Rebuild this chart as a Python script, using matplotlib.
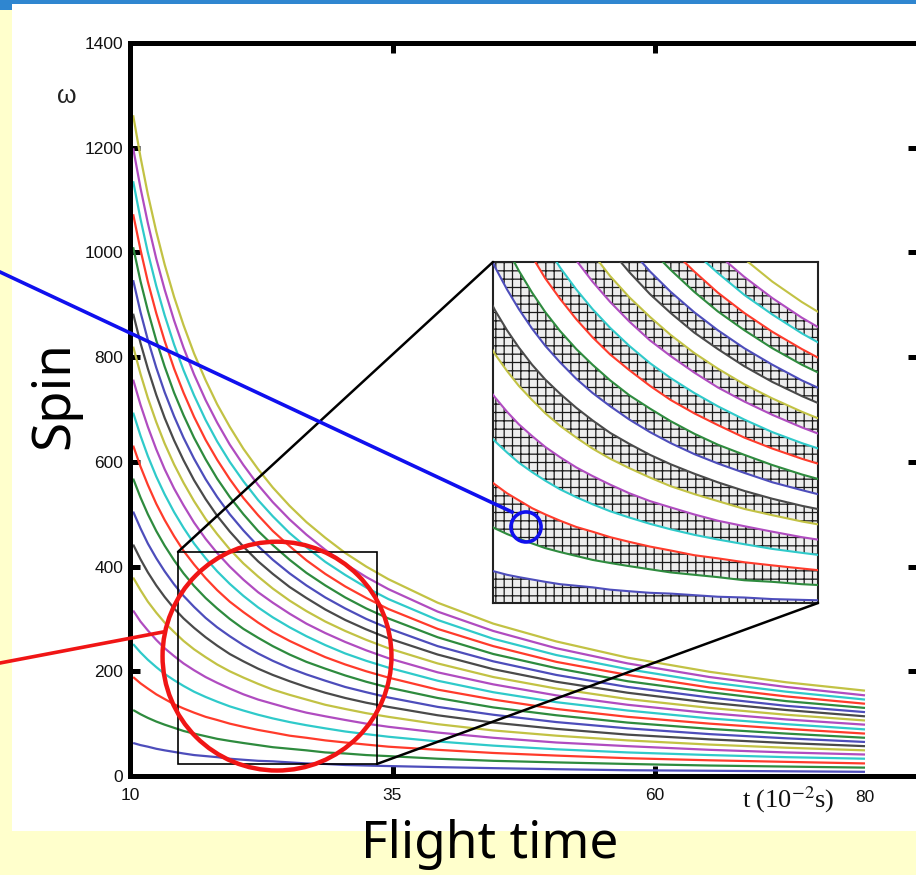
import matplotlib
matplotlib.use('Agg')
import matplotlib.pyplot as plt
from matplotlib.patches import Rectangle, Ellipse, ConnectionPatch
from matplotlib.lines import Line2D

# ---------------- data ----------------
t = [10.3, 11, 11.7, 12.5, 13.3, 14.2, 15.1, 16.1, 17.2, 18.3, 19.5, 20.8, 22.2, 23.6,
     25.2, 26.8, 28.6, 30.5, 32.5, 34.6, 39.3, 44.6, 50.6, 57.4, 65.2, 72.5, 80]

w01 = [63, 59, 56, 52, 49, 46, 43, 40, 38, 36, 33, 31, 29, 28, 26, 24, 23, 21, 20, 19, 17, 15, 13, 11, 10, 9, 8]
w02 = [126, 118, 111, 104, 98, 92, 86, 81, 76, 71, 67, 63, 59, 55, 52, 49, 45, 43, 40, 38, 33, 29, 26, 23, 20, 18, 16]
w03 = [189, 177, 167, 156, 147, 137, 129, 121, 113, 107, 100, 94, 88, 83, 77, 73, 68, 64, 60, 56, 50, 44, 39, 34, 30, 27, 24]
w04 = [252, 236, 222, 208, 195, 183, 172, 161, 151, 142, 133, 125, 117, 110, 103, 97, 91, 85, 80, 75, 66, 58, 51, 45, 40, 36, 33]
w05 = [316, 295, 278, 260, 244, 229, 215, 202, 189, 178, 167, 156, 146, 138, 129, 121, 114, 107, 100, 94, 83, 73, 64, 57, 50, 45, 41]
w06 = [379, 355, 333, 312, 293, 275, 258, 242, 227, 213, 200, 188, 176, 165, 155, 146, 136, 128, 120, 113, 99, 87, 77, 68, 60, 54, 49]
w07 = [442, 414, 389, 364, 342, 320, 301, 283, 265, 249, 233, 219, 205, 193, 181, 170, 159, 149, 140, 132, 116, 102, 90, 79, 70, 63, 57]
w08 = [505, 473, 444, 416, 391, 366, 344, 323, 302, 284, 267, 250, 234, 220, 206, 194, 182, 170, 160, 150, 132, 117, 103, 91, 80, 72, 65]
w09 = [568, 532, 500, 468, 440, 412, 387, 363, 340, 320, 300, 281, 264, 248, 232, 218, 205, 192, 180, 169, 149, 131, 116, 102, 90, 81, 73]
w10 = [631, 591, 556, 520, 489, 458, 430, 404, 378, 355, 333, 313, 293, 275, 258, 243, 227, 213, 200, 188, 165, 146, 128, 113, 100, 90, 81]
w11 = [694, 650, 611, 572, 538, 504, 474, 444, 416, 391, 367, 344, 322, 303, 284, 267, 250, 234, 220, 207, 182, 160, 141, 125, 110, 99, 89]
w12 = [757, 709, 667, 624, 586, 549, 517, 484, 453, 426, 400, 375, 351, 331, 310, 291, 273, 256, 240, 225, 198, 175, 154, 136, 120, 108, 98]
w13 = [820, 768, 722, 676, 635, 595, 560, 525, 491, 462, 433, 406, 381, 358, 335, 315, 295, 277, 260, 244, 215, 189, 167, 147, 130, 117, 106]
w14 = [883, 827, 778, 728, 684, 641, 603, 565, 529, 497, 467, 438, 410, 386, 361, 340, 318, 298, 280, 263, 232, 204, 180, 159, 140, 126, 114]
w15 = [947, 886, 833, 780, 733, 687, 646, 606, 567, 533, 500, 469, 439, 413, 387, 364, 341, 320, 300, 282, 248, 219, 193, 170, 150, 134, 122]
w16 = [1010, 945, 889, 832, 782, 732, 689, 646, 605, 568, 533, 500, 468, 441, 413, 388, 364, 341, 320, 301, 265, 233, 206, 181, 160, 143, 130]
w17 = [1073, 1005, 944, 884, 831, 778, 732, 686, 642, 604, 567, 531, 498, 468, 439, 412, 386, 362, 340, 319, 281, 248, 218, 193, 169, 152, 138]
w18 = [1136, 1064, 1000, 936, 880, 824, 775, 727, 680, 639, 600, 563, 527, 496, 464, 437, 409, 384, 360, 338, 298, 262, 231, 204, 179, 161, 146]
w19 = [1199, 1123, 1056, 988, 929, 870, 818, 767, 718, 675, 633, 594, 556, 523, 490, 461, 432, 405, 380, 357, 314, 277, 244, 215, 189, 170, 154]
w20 = [1262, 1182, 1111, 1040, 977, 915, 861, 807, 756, 710, 667, 625, 586, 551, 516, 485, 455, 426, 400, 376, 331, 291, 257, 226, 199, 179, 163]
curves = [w01, w02, w03, w04, w05, w06, w07, w08, w09, w10,
          w11, w12, w13, w14, w15, w16, w17, w18, w19, w20]

xticks = [10, 35, 60, 85]
xticklabels = ['10', '35', '60', '']
yticks = [0, 200, 400, 600, 800, 1000, 1200, 1400]
yticklabels = ['0', '200', '400', '600', '800', '1000', '1200', '1400']

# zoom window (main chart) and inset view window
zoom_t = (14.57, 33.52)
zoom_w = (23, 428)
inset_t = (11.55, 33.6)
inset_w = (16, 451)

palette = ['#4d4dbb', '#2e8b3e', '#ff3b2b', '#2fcaca', '#b04cc0', '#c2c244', '#4a4a4a']

# ---------------- figure ----------------
W, H = 916, 875
fig = plt.figure(figsize=(W / 100, H / 100), dpi=100, facecolor='#FFFFCC')
plt.rcParams['hatch.linewidth'] = 0.9
plt.rcParams['mathtext.fontset'] = 'stix'


def fx(px):
    return px / W


def fy(py):
    return 1 - py / H


# slide background elements
fig.add_artist(Rectangle((fx(12), fy(831)), fx(916) - fx(12), fy(3) - fy(831),
                         transform=fig.transFigure, facecolor='white',
                         edgecolor='none', zorder=0))
fig.add_artist(Rectangle((0, fy(4)), 1, fy(0) - fy(4), transform=fig.transFigure,
                         facecolor='#2f86d0', edgecolor='none', zorder=0))
fig.add_artist(Rectangle((0, fy(10)), fx(12), fy(0) - fy(10), transform=fig.transFigure,
                         facecolor='#2f86d0', edgecolor='none', zorder=0))

# ---------------- main axes ----------------
ax = fig.add_axes([fx(130), fy(776), (917.5 - 130) / W, (776 - 43) / H])
ax.set_facecolor('none')
for i, w in enumerate(curves):
    ax.plot(t, w, color=palette[i % 7], lw=1.6, solid_capstyle='butt', zorder=2)
ax.set_xlim(10, 85)
ax.set_ylim(0, 1400)
ax.set_xticks(xticks)
ax.set_xticklabels(xticklabels)
ax.set_yticks(yticks)
ax.set_yticklabels(yticklabels)
for s in ax.spines.values():
    s.set_linewidth(3.6)
    s.set_color('black')
ax.tick_params(direction='in', length=7, width=3.6, top=True, right=True,
               labelsize=12.5, colors='black')
ax.tick_params(axis='y', pad=5)
ax.tick_params(axis='x', pad=9)
for lab in ax.get_xticklabels() + ax.get_yticklabels():
    lab.set_fontfamily('Liberation Sans')
    lab.set_color('#111111')

ax.text(80, -(797 - 776) / 733, '80', transform=ax.get_xaxis_transform(),
        ha='center', va='center', fontsize=12.5, fontfamily='Liberation Sans',
        color='#111111')

# zoom rectangle
ax.add_patch(Rectangle((zoom_t[0], zoom_w[0]), zoom_t[1] - zoom_t[0], zoom_w[1] - zoom_w[0],
                       fill=False, edgecolor='black', lw=1.2, zorder=5))

# red circle
ax.add_patch(Ellipse((24.0, 229), width=21.8, height=437, fill=False,
                     edgecolor='#f01515', lw=3.2, zorder=8, clip_on=False))

# ---------------- inset ----------------
ax2 = fig.add_axes([fx(493), fy(603), 325 / W, 341 / H])
ax2.set_facecolor('white')
ax2.set_xlim(*inset_t)
ax2.set_ylim(*inset_w)
ax2.set_xticks([])
ax2.set_yticks([])
for s in ax2.spines.values():
    s.set_linewidth(1.5)
    s.set_color('#222222')

bands = [([0] * len(t), curves[0])] + [(curves[j], curves[j + 1]) for j in range(1, 19, 2)]
for lo, hi in bands:
    ax2.fill_between(t, lo, hi, facecolor='#eeeeee', edgecolor='#1a1a1a',
                     linewidth=0, hatch='++', zorder=1)
for i, w in enumerate(curves):
    ax2.plot(t, w, color=palette[i % 7], lw=1.5, zorder=3)

# blue circle in inset
ax2.add_patch(Ellipse((13.79, 113), width=2.04, height=38.3, fill=False,
                      edgecolor='#1010ee', lw=2.6, zorder=8, clip_on=False))

# connecting lines from zoom rectangle to inset
for pa, pb in [((zoom_t[0], zoom_w[1]), (0, 1)), ((zoom_t[1], zoom_w[0]), (1, 0))]:
    cp = ConnectionPatch(xyA=pa, coordsA=ax.transData, xyB=pb, coordsB=ax2.transAxes,
                         color='black', lw=1.8, zorder=6)
    fig.add_artist(cp)

# pointer lines
fig.add_artist(Line2D([fx(0), fx(512)], [fy(272), fy(512)], transform=fig.transFigure,
                      color='#1010ee', lw=2.6, zorder=9))
fig.add_artist(Line2D([fx(0), fx(163)], [fy(663), fy(632)], transform=fig.transFigure,
                      color='#f01515', lw=2.6, zorder=9))

# ---------------- labels ----------------
fig.text(fx(788), fy(800), r't (10$^{-2}$s)', ha='center', va='center',
         fontsize=19, fontfamily='Liberation Serif', color='#111111')
fig.text(fx(67), fy(96), 'ω', ha='center', va='center', fontsize=18,
         fontfamily='Liberation Sans', color='#222222')
fig.text(fx(55), fy(395), 'Spin', rotation=90, ha='center', va='center',
         fontsize=38, fontfamily='Noto Sans')
fig.text(fx(490), fy(845), 'Flight time', ha='center', va='center',
         fontsize=37, fontfamily='Noto Sans')

fig.savefig('out.png', dpi=100, facecolor=fig.get_facecolor())
